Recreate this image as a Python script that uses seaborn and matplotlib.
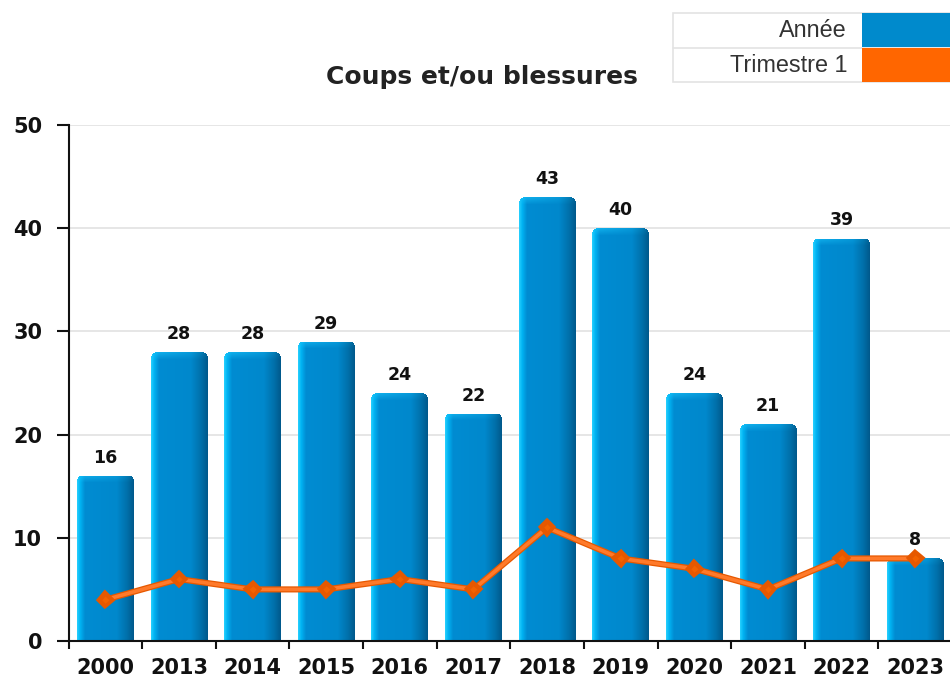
import numpy as np
import pandas as pd
import matplotlib
matplotlib.use("Agg")
import matplotlib.pyplot as plt
import seaborn as sns
from matplotlib.patches import Rectangle
from matplotlib.lines import Line2D
import matplotlib.patheffects as pe

# ---------------- data ----------------
years = ["2000", "2013", "2014", "2015", "2016", "2017",
         "2018", "2019", "2020", "2021", "2022", "2023"]
annee = [16, 28, 28, 29, 24, 22, 43, 40, 24, 21, 39, 8]
trimestre1 = [4, 6, 5, 5, 6, 5, 11, 8, 7, 5, 8, 8]
yticks = [0, 10, 20, 30, 40, 50]
title = "Coups et/ou blessures"
legend_labels = ["Année", "Trimestre 1"]

# ---------------- style ----------------
sns.set_style("white")
plt.rcParams['font.family'] = ['DejaVu Sans']

W, H = 950, 677
fig = plt.figure(figsize=(W / 100, H / 100), dpi=100)
ax = fig.add_axes([68.5 / W, 1 - 641 / H, 883.5 / W, (641 - 125) / H])

df = pd.DataFrame({"year": years, "annee": annee, "t1": trimestre1})

BLUE = "#008ACC"
ORANGE = "#FF6600"

sns.barplot(data=df, x="year", y="annee", order=years, color=BLUE,
            saturation=1, width=0.77, ax=ax, zorder=2)
bars = list(ax.patches)

sns.pointplot(data=df, x="year", y="t1", order=years, color="#FF7A2A",
              markers="D", markersize=5.5, linewidth=2.6, errorbar=None, ax=ax)
for ln in ax.lines:
    ln.set_zorder(6)
    ln.set_path_effects([pe.Stroke(linewidth=4.4, foreground="#E65800"), pe.Normal()])
    ln.set_markeredgecolor("#E65800")
    ln.set_markerfacecolor("#F26200")

ax.set_xlim(-0.5, len(years) - 0.5)
ax.set_ylim(0, 50)

# ---------------- bar gradients ----------------
stops_x = [0.0, 0.06, 0.14, 0.70, 0.88, 1.0]
stops_c = np.array([(40, 210, 255), (0, 178, 242), (0, 140, 210),
                    (0, 136, 204), (0, 112, 170), (0, 88, 138)], dtype=float) / 255

fig.canvas.draw()
for p in bars:
    x, y, w, h = p.get_x(), p.get_y(), p.get_width(), p.get_height()
    (x0, y0), (x1, y1) = ax.transData.transform([(x, y), (x + w, y + h)])
    wpx = max(int(round(x1 - x0)), 2)
    hpx = max(int(round(y1 - y0)), 2)
    fx = (np.arange(wpx) + 0.5) / wpx
    row = np.stack([np.interp(fx, stops_x, stops_c[:, k]) for k in range(3)], axis=1)
    img = np.ones((hpx, wpx, 4))
    img[:, :, :3] = row[None, :, :]
    # lighter top cap (brighter towards the left)
    cap = 7
    light = np.array([25, 195, 250]) / 255
    wgt = np.clip(1.15 - fx, 0, 1)[:, None]
    for i in range(min(cap, hpx)):
        t = 0.6 * (1 - i / cap)
        img[i, :, :3] = img[i, :, :3] * (1 - t * wgt) + light * t * wgt
    # rounded top corners
    r = 6
    for i in range(min(r, hpx)):
        for j in range(r):
            if (r - i - 0.5) ** 2 + (r - j - 0.5) ** 2 > r ** 2:
                img[i, j, 3] = 0
                img[i, wpx - 1 - j, 3] = 0
    im = ax.imshow(img, extent=[x, x + w, y, y + h], origin="upper",
                   aspect="auto", zorder=2.1, interpolation="nearest")
    im.set_clip_path(p)
    p.set_facecolor("none")
    p.set_edgecolor("none")

ax.set_xlim(-0.5, len(years) - 0.5)
ax.set_ylim(0, 50)
ax.set_aspect("auto")

# ---------------- value labels ----------------
for i, v in enumerate(annee):
    ax.annotate(str(v), (i, v), xytext=(0, 9.4), textcoords="offset points",
                ha="center", va="baseline", fontsize=12.5, fontweight="bold",
                color="#111111", zorder=7)

# ---------------- axes / ticks ----------------
ax.set_xlabel("")
ax.set_ylabel("")
ax.set_xticks(range(len(years)))
ax.set_xticklabels(years, fontsize=15, fontweight="bold", color="#111111")
ax.set_xticks(np.arange(-0.5, len(years), 1), minor=True)
ax.tick_params(axis="x", which="major", length=0, pad=12.5, bottom=True)
ax.tick_params(axis="x", which="minor", length=6, width=1.5, color="#111111",
               direction="out", bottom=True)
ax.set_yticks(yticks)
ax.set_yticklabels([str(t) for t in yticks], fontsize=15, fontweight="bold",
                   color="#111111")
ax.tick_params(axis="y", length=9, width=1.5, pad=10, left=True,
               direction="out", color="#111111")

ax.yaxis.grid(True, color="#e4e4e4", lw=1.3)
ax.xaxis.grid(False)
ax.set_axisbelow(True)
for s in ["top", "right"]:
    ax.spines[s].set_visible(False)
for s in ["left", "bottom"]:
    ax.spines[s].set_color("#111111")
    ax.spines[s].set_linewidth(1.5)

# ---------------- title ----------------
fig.text(482 / W, 1 - 84 / H, title, ha="center", va="baseline",
         fontsize=18, fontweight="bold", color="#222222")

# ---------------- legend ----------------
lx0, lx1 = 672.5, 949.5
ly0, ly1 = 12.5, 82
fig.patches.append(Rectangle((lx0 / W, 1 - ly1 / H), (lx1 - lx0) / W, (ly1 - ly0) / H,
                             transform=fig.transFigure, facecolor="white",
                             edgecolor="#e3e3e3", lw=1.2, zorder=10))
fig.lines.append(Line2D([lx0 / W, lx1 / W], [1 - 47.5 / H, 1 - 47.5 / H],
                        transform=fig.transFigure, color="#e3e3e3", lw=1.2, zorder=11))
sw_colors = [BLUE, ORANGE]
rows = [(13, 47), (48, 82)]
baselines = [37, 72.5]
for lab, col, (r0, r1), bl in zip(legend_labels, sw_colors, rows, baselines):
    fig.patches.append(Rectangle((862 / W, 1 - r1 / H), 87.5 / W, (r1 - r0) / H,
                                 transform=fig.transFigure, facecolor=col,
                                 edgecolor="none", zorder=12))
    fig.text(847 / W, 1 - bl / H, lab, ha="right", va="baseline", fontsize=16.8,
             family=["Liberation Sans", "DejaVu Sans"], color="#333333", zorder=12)

fig.savefig("out.png", dpi=100)
